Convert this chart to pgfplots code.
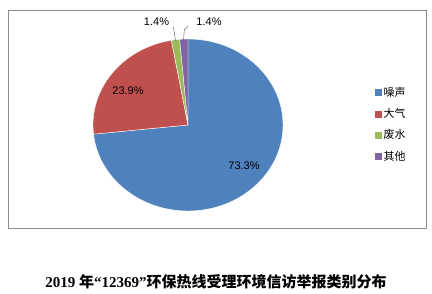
\documentclass[border=0pt]{standalone}
\usepackage{pgfplots}
\usepackage{pgfplotstable}
\pgfplotsset{compat=1.18}
\usepackage{fontspec}
\setmainfont{Liberation Serif}
\newfontfamily\lsans{Liberation Sans}
\newfontfamily\cjk{Noto Sans CJK SC}
\definecolor{c0}{HTML}{4F81BD}
\definecolor{c1}{HTML}{C0504D}
\definecolor{c2}{HTML}{9BBB59}
\definecolor{c3}{HTML}{8064A2}
\definecolor{framegray}{HTML}{8C8C8C}

\pgfplotstableread{
value
73.3
23.9
1.4
1.4
}\piedata

\gdef\cum{90}
\pgfplotsforeachungrouped \i in {0,...,3}{%
  \pgfplotstablegetelem{\i}{value}\of\piedata
  \pgfmathsetmacro\endang{\cum-3.6*\pgfplotsretval}%
  \expandafter\xdef\csname s\i\endcsname{\cum}%
  \expandafter\xdef\csname e\i\endcsname{\endang}%
  \xdef\cum{\endang}%
}

\begin{document}
\begin{tikzpicture}
\begin{axis}[
  scale only axis, width=432pt, height=294pt,
  xmin=0, xmax=432, ymin=0, ymax=294,
  axis lines=none, clip=false,
  legend style={at={(axis cs:375,209)}, anchor=north west, draw=none, fill=none,
    font=\cjk\fontsize{11}{13}\selectfont, row sep=6.5pt,
    inner sep=0pt, cells={anchor=west}},
  legend cell align=left,
]
\path (axis cs:0,0) rectangle (axis cs:432,294);
\draw[framegray, line width=1pt] (axis cs:8,65) rectangle (axis cs:426,283);
\pgfplotsinvokeforeach{0,...,3}{
  \fill[c#1, draw=white, line width=0.4pt] (axis cs:188,169) -- ++(\csname s#1\endcsname:95pt and 86pt)
    arc[start angle=\csname s#1\endcsname, end angle=\csname e#1\endcsname, x radius=95pt, y radius=86pt] -- cycle;
}
\addlegendimage{legend image code/.code={\fill[c0] (0pt,-3pt) rectangle (6pt,3pt);}}
\addlegendentry{噪声}
\addlegendimage{legend image code/.code={\fill[c1] (0pt,-3pt) rectangle (6pt,3pt);}}
\addlegendentry{大气}
\addlegendimage{legend image code/.code={\fill[c2] (0pt,-3pt) rectangle (6pt,3pt);}}
\addlegendentry{废水}
\addlegendimage{legend image code/.code={\fill[c3] (0pt,-3pt) rectangle (6pt,3pt);}}
\addlegendentry{其他}
% leader lines
\draw[gray!80!black, line width=0.5pt] (axis cs:175.5,253) -- (axis cs:173.5,267);
\draw[gray!80!black, line width=0.5pt] (axis cs:183.5,253) -- (axis cs:184.3,264) -- (axis cs:188,268);
% labels
\node[font=\lsans\fontsize{11}{13}\selectfont, text=black] at (axis cs:244,128) {73.3\%};
\node[font=\lsans\fontsize{11}{13}\selectfont, text=black] at (axis cs:128,203) {23.9\%};
\node[font=\lsans\fontsize{11}{13}\selectfont, text=black] at (axis cs:156.5,272.5) {1.4\%};
\node[font=\lsans\fontsize{11}{13}\selectfont, text=black] at (axis cs:209,272.5) {1.4\%};
% title
\node[font=\fontsize{15}{17}\selectfont\bfseries] at (axis cs:216,12) {2019 {\cjk 年}“12369”{\cjk 环保热线受理环境信访举报类别分布}};
\end{axis}
\end{tikzpicture}
\end{document}
